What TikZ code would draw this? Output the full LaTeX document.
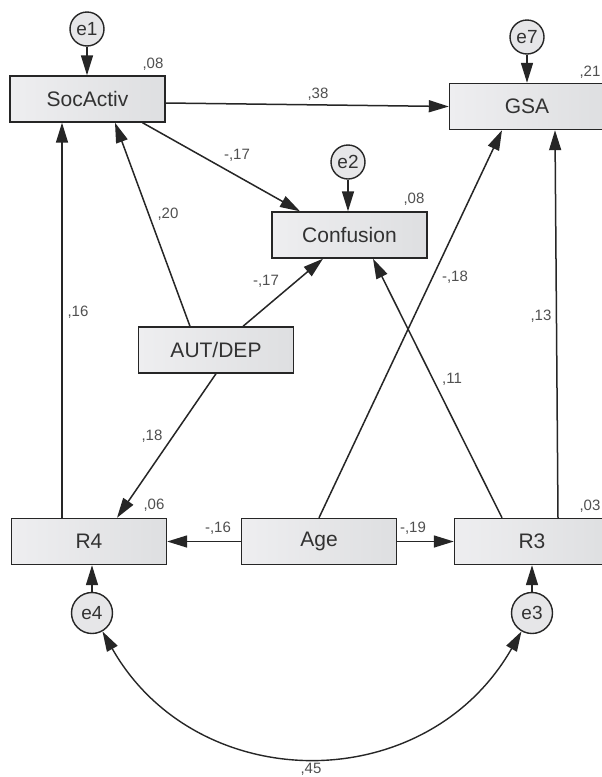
\documentclass[tikz,border=0pt]{standalone}
\usepackage{fontspec}
\setmainfont{Liberation Sans}
\usetikzlibrary{arrows.meta}
\definecolor{boxL}{RGB}{238,238,240}
\definecolor{boxR}{RGB}{222,223,225}
\definecolor{errfill}{RGB}{230,230,232}
\definecolor{edgec}{RGB}{38,38,38}
\definecolor{txt}{RGB}{50,50,50}
\definecolor{lbl}{RGB}{80,80,80}
\begin{document}
\begin{tikzpicture}[x=1pt,y=-1pt,
  var/.style={draw=edgec, line width=1.4pt, left color=boxL, right color=boxR,
    minimum width=155pt, minimum height=46pt, inner sep=0pt,
    font=\fontsize{21}{21}\selectfont, text=txt},
  err/.style={circle, draw=edgec, line width=1.4pt, fill=errfill,
    minimum size=34pt, inner sep=0pt, font=\fontsize{19}{19}\selectfont, text=txt},
  bigerr/.style={err, minimum size=41pt},
  arr/.style={draw=edgec, line width=1.5pt, -{Triangle[length=20pt,width=12pt]}},
  dblarr/.style={draw=edgec, line width=1.4pt, {Triangle[length=20pt,width=12pt]}-{Triangle[length=20pt,width=12pt]}},
  coef/.style={font=\fontsize{15}{15}\selectfont, text=lbl, inner sep=0pt}
]
\useasboundingbox (0,0) rectangle (602,777);
\fill[white] (0,0) rectangle (602,777);
\clip (0,0) rectangle (602,777);

% observed variables
\node[var] (soc)  at (87.5,99)    {SocActiv};
\node[var] (gsa)  at (527,106.5)  {GSA};
\node[var] (conf) at (349.5,235)  {Confusion};
\node[var] (aut)  at (216,350)    {AUT/DEP};
\node[var] (r4)   at (89,541.5)   {R4};
\node[var] (age)  at (319,541.5)  {Age};
\node[var] (r3)   at (532,541.5)  {R3};

% error terms
\node[err] (e1) at (87,29)   {e1};
\node[err] (e7) at (527,37)  {e7};
\node[err] (e2) at (348,162) {e2};
\node[bigerr] (e4) at (92,613)  {e4};
\node[bigerr] (e3) at (532,613) {e3};

% error arrows
\draw[arr] (e1) -- (e1 |- soc.north);
\draw[arr] (e7) -- (e7 |- gsa.north);
\draw[arr] (e2) -- (e2 |- conf.north);
\draw[arr] (e4) -- (e4 |- r4.south);
\draw[arr] (e3) -- (e3 |- r3.south);

% structural paths
\draw[arr] ([yshift=-4pt]soc.east) -- (gsa.west);
\draw[arr] ([xshift=55pt]soc.south) -- ([xshift=-49.5pt]conf.north);
\draw[arr] ([xshift=-26pt]aut.north) -- ([xshift=27.5pt]soc.south);
\draw[arr] ([xshift=27pt]aut.north) -- ([xshift=-26.5pt]conf.south);
\draw[arr] (aut.south) -- ([xshift=28pt]r4.north);
\draw[arr] ([xshift=-27pt]r4.north) -- ([xshift=-25.5pt]soc.south);
\draw[arr] (age.west) -- (r4.east);
\draw[arr] (age.east) -- (r3.west);
\draw[arr] (age.north) -- ([xshift=-25pt]gsa.south);
\draw[arr] ([xshift=-30pt]r3.north) -- ([xshift=23.5pt]conf.south);
\draw[arr] ([xshift=26pt]r3.north) -- ([xshift=28pt]gsa.south);

% covariance
\draw[dblarr] (e4) .. controls (196.5,797) and (425.5,799) .. (e3);

% coefficients
\node[coef] (l1)  at (153,64)    {,08};
\node[coef] (l2)  at (318,94)    {,38};
\node[coef] (l3)  at (590,72)    {,21};
\node[coef] (l4)  at (237,155)   {-,17};
\node[coef] (l5)  at (414,199)   {,08};
\node[coef] (l6)  at (168,214)   {,20};
\node[coef] (l7)  at (266,281)   {-,17};
\node[coef] (l8)  at (455,277)   {-,18};
\node[coef] (l9)  at (541,316)   {,13};
\node[coef] (l10) at (452,379)   {,11};
\node[coef] (l11) at (78,312)    {,16};
\node[coef] (l12) at (152,436)   {,18};
\node[coef] (l13) at (154,505)   {,06};
\node[coef] (l14) at (218,528)   {-,16};
\node[coef] (l15) at (413,528)   {-,19};
\node[coef] (l16) at (590,506)   {,03};
\node[coef] (l17) at (311,769)   {,45};
\end{tikzpicture}
\end{document}
